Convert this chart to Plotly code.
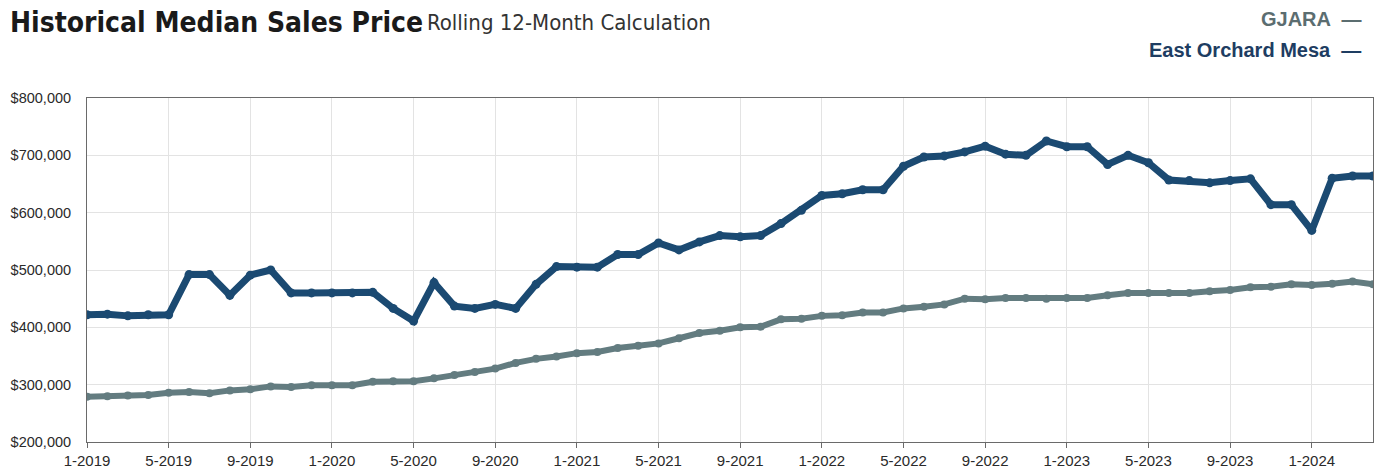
import plotly.graph_objects as go

# Monthly rolling 12-month median sales price, Jan 2019 through Apr 2024
months = [f"{m}-{y}" for y in range(2019, 2025) for m in range(1, 13)][:64]

east_orchard_mesa = [
    422000, 423000, 420000, 422000, 422000, 492000, 492000, 456000, 491000, 500000,
    460000, 460000, 460000, 460000, 461000, 433000, 411000, 478000, 437000, 433000,
    440000, 433000, 475000, 506000, 505000, 505000, 527000, 527000, 547000, 535000,
    549000, 560000, 558000, 560000, 581000, 604000, 630000, 633000, 640000, 640000,
    681000, 697000, 699000, 706000, 716000, 702000, 700000, 725000, 715000, 715000,
    684000, 700000, 687000, 657000, 656000, 652000, 656000, 659000, 614000, 614000,
    569000, 660000, 664000, 664000,
]

gjara = [
    279000, 280000, 281000, 282000, 286000, 287000, 285000, 290000, 292000, 297000,
    296000, 299000, 299000, 299000, 305000, 306000, 306000, 311000, 317000, 322000,
    328000, 338000, 345000, 349000, 355000, 357000, 364000, 368000, 372000, 381000,
    390000, 394000, 400000, 401000, 414000, 415000, 420000, 421000, 426000, 426000,
    433000, 436000, 440000, 450000, 449000, 451000, 451000, 450000, 451000, 451000,
    456000, 460000, 460000, 460000, 460000, 463000, 465000, 470000, 471000, 475000,
    474000, 476000, 480000, 475000,
]

tick_labels = ["1-2019", "5-2019", "9-2019", "1-2020", "5-2020", "9-2020", "1-2021",
               "5-2021", "9-2021", "1-2022", "5-2022", "9-2022", "1-2023", "5-2023",
               "9-2023", "1-2024"]
y_ticks = [200000, 300000, 400000, 500000, 600000, 700000, 800000]

NAVY = "#1b4a72"
SLATE = "#637c80"
NARROW = "'DejaVu Sans Condensed', 'Liberation Sans Narrow', sans-serif"
SANS = "'Liberation Sans', Arial, sans-serif"

# plot area geometry in pixels, used to place the header texts
L, R, T, B = 87, 6, 98, 29
PW, PH = 1380 - L - R, 475 - T - B


def px_x(x):
    return (x - L) / PW


def px_y(y):
    return 1 + (T - y) / PH


x_idx = list(range(len(months)))

fig = go.Figure()
fig.add_trace(go.Scatter(
    x=x_idx, y=gjara, mode="lines+markers", name="GJARA",
    line=dict(color=SLATE, width=6), marker=dict(color=SLATE, size=8),
    text=months, hovertemplate="%{text}: $%{y:,.0f}<extra>GJARA</extra>",
))
fig.add_trace(go.Scatter(
    x=x_idx, y=east_orchard_mesa, mode="lines+markers", name="East Orchard Mesa",
    line=dict(color=NAVY, width=7), marker=dict(color=NAVY, size=9),
    text=months, hovertemplate="%{text}: $%{y:,.0f}<extra>East Orchard Mesa</extra>",
))

fig.update_layout(
    width=1380, height=475,
    margin=dict(l=L, r=R, t=T, b=B),
    paper_bgcolor="white", plot_bgcolor="white",
    showlegend=False,
    font=dict(family=SANS, color="#333333"),
    xaxis=dict(
        range=[0, len(months) - 1],
        tickvals=[months.index(t) for t in tick_labels],
        ticktext=tick_labels,
        showgrid=True, gridcolor="#e3e3e3", gridwidth=1,
        showline=True, linecolor="#6a6a6a", linewidth=1, mirror=True,
        ticks="outside", ticklen=5, tickcolor="#6a6a6a",
        tickfont=dict(size=15, color="#2a2a2a"),
        zeroline=False,
    ),
    yaxis=dict(
        range=[200000, 800000],
        tickvals=y_ticks,
        ticktext=[f"${v:,.0f}" for v in y_ticks],
        showgrid=True, gridcolor="#e3e3e3", gridwidth=1,
        showline=True, linecolor="#6a6a6a", linewidth=1, mirror=True,
        ticks="", ticklabelstandoff=12,
        tickfont=dict(size=14.5, color="#2a2a2a"),
        zeroline=False,
    ),
    annotations=[
        dict(xref="paper", yref="paper", x=px_x(8), y=px_y(3),
             xanchor="left", yanchor="top", showarrow=False,
             text="<b>Historical Median Sales Price</b>",
             font=dict(family=NARROW, size=28, color="#1a1a1a")),
        dict(xref="paper", yref="paper", x=px_x(425), y=px_y(7),
             xanchor="left", yanchor="top", showarrow=False,
             text="Rolling 12-Month Calculation",
             font=dict(family=NARROW, size=22, color="#333333")),
        dict(xref="paper", yref="paper", x=px_x(1364), y=px_y(5),
             xanchor="right", yanchor="top", showarrow=False,
             text="<b>GJARA  \u2014</b>",
             font=dict(family=SANS, size=20, color="#5b6d70")),
        dict(xref="paper", yref="paper", x=px_x(1364), y=px_y(36),
             xanchor="right", yanchor="top", showarrow=False,
             text="<b>East Orchard Mesa  \u2014</b>",
             font=dict(family=SANS, size=20, color="#1e3d62")),
    ],
)

fig.write_html("out.html")
